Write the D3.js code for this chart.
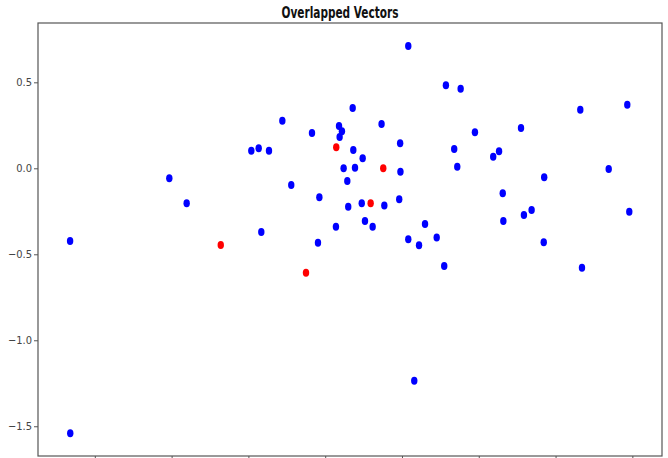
<!DOCTYPE html>
<html>
<head>
<meta charset="utf-8">
<script src="https://cdn.jsdelivr.net/npm/d3@7"></script>
<style>
  html, body { margin: 0; padding: 0; background: #fff; }
  svg { display: block; }
</style>
</head>
<body>
<div id="chart"></div>
<script>
const chartTitle = "Overlapped Vectors";

const blueX = [-2.161, -2.160, -1.515, -1.402, -0.981, -0.933, -0.866, -0.916, -0.779, -0.721,
  -0.586, -0.538, -0.547, -0.410, -0.391, -0.406, -0.321, -0.317, -0.256, -0.380,
  -0.306, -0.356, -0.350, -0.262, -0.430, -0.241, -0.191, -0.133, -0.115, -0.012,
  -0.010, -0.018, 0.041, 0.286, 0.382, 0.475, 0.775, 1.161, 1.467, 0.340,
  0.632, 0.594, 0.360, 1.346, 0.926, 0.656, 1.480, 0.844, 0.794, 0.660,
  0.150, 0.041, 0.111, 0.226, 0.275, 0.923, 1.172, 0.080];
const blueY = [-0.423, -1.541, -0.058, -0.203, 0.102, 0.116, 0.102, -0.370, 0.277, -0.097,
  0.205, -0.169, -0.433, 0.246, 0.215, 0.182, 0.351, 0.106, 0.058, 0.000,
  0.003, -0.074, -0.223, -0.203, -0.340, -0.306, -0.340, 0.258, -0.217, 0.145,
  -0.020, -0.180, 0.711, 0.483, 0.463, 0.209, 0.234, 0.341, 0.370, 0.112,
  0.099, 0.067, 0.009, -0.004, -0.052, -0.145, -0.252, -0.242, -0.272, -0.306,
  -0.324, -0.413, -0.448, -0.403, -0.568, -0.430, -0.578, -1.235];

const redX = [-1.180, -0.625, -0.428, -0.122, -0.204];
const redY = [-0.446, -0.607, 0.122, 0.001, -0.203];

const xTicks = [-2.0, -1.5, -1.0, -0.5, 0.0, 0.5, 1.0, 1.5];
const yTicks = [0.5, 0.0, -0.5, -1.0, -1.5];

(function () {
const W = 668, H = 458;
const mLeft = 38, mRight = 662, mTop = 23, mBottom = 456;

const x = d3.scaleLinear().domain([-2.37, 1.693]).range([mLeft, mRight]);
const y = d3.scaleLinear().domain([0.845, -1.673]).range([mTop, mBottom]);

const svg = d3.select("#chart").append("svg").attr("width", W).attr("height", H);

const fontFam = "'Liberation Sans Narrow', 'DejaVu Sans Condensed', 'Roboto Condensed', sans-serif";

// frame
svg.append("rect")
  .attr("x", mLeft).attr("y", mTop)
  .attr("width", mRight - mLeft).attr("height", mBottom - mTop)
  .attr("fill", "none").attr("stroke", "#555").attr("stroke-width", 1.2);

const fmt = d => d3.format(".1f")(d).replace("-", "\u2212");

// y axis
const gy = svg.append("g").attr("transform", `translate(${mLeft},0)`)
  .call(d3.axisLeft(y).tickValues(yTicks).tickSize(4).tickPadding(2).tickFormat(fmt));
gy.select(".domain").remove();
gy.selectAll(".tick line").attr("stroke", "#555");
gy.selectAll(".tick text").attr("fill", "#444")
  .style("font-family", fontFam).style("font-stretch", "condensed").style("font-size", "11px");

// x axis (labels fall below the visible area in the reference, so only tick marks are shown)
const gx = svg.append("g").attr("transform", `translate(0,${mBottom})`)
  .call(d3.axisBottom(x).tickValues(xTicks).tickSize(4).tickFormat(""));
gx.select(".domain").remove();
gx.selectAll(".tick line").attr("stroke", "#555");
gx.selectAll(".tick text").remove();

// points
const blue = blueX.map((v, i) => ({x: v, y: blueY[i]}));
const red = redX.map((v, i) => ({x: v, y: redY[i]}));

svg.append("g").selectAll("ellipse").data(blue).join("ellipse")
  .attr("cx", d => x(d.x)).attr("cy", d => y(d.y))
  .attr("rx", 3.2).attr("ry", 4).attr("fill", "#0000ff");

svg.append("g").selectAll("ellipse").data(red).join("ellipse")
  .attr("cx", d => x(d.x)).attr("cy", d => y(d.y))
  .attr("rx", 3.2).attr("ry", 4).attr("fill", "#ff0000");

// title
svg.append("text")
  .attr("x", 340).attr("y", 18)
  .attr("text-anchor", "middle")
  .attr("textLength", 117).attr("lengthAdjust", "spacingAndGlyphs")
  .style("font-family", fontFam).style("font-weight", "bold").style("font-size", "15px")
  .attr("fill", "#111")
  .text(chartTitle);
})();
</script>
</body>
</html>
